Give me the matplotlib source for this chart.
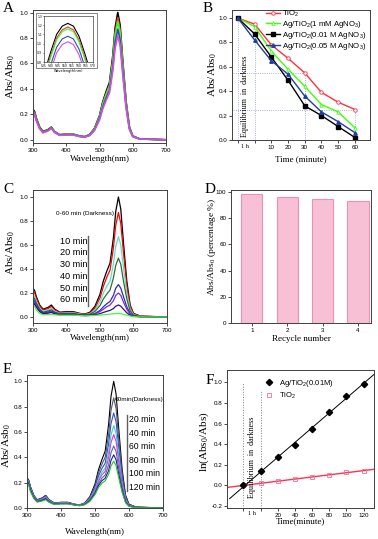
import numpy as np
import matplotlib
matplotlib.use("Agg")
import matplotlib.pyplot as plt
from matplotlib.lines import Line2D
from matplotlib.patches import Rectangle

plt.rcParams["mathtext.fontset"] = "custom"
plt.rcParams["mathtext.rm"] = "Liberation Serif"
plt.rcParams["mathtext.it"] = "Liberation Serif:italic"
plt.rcParams["mathtext.sf"] = "Liberation Sans"

# ---------------- data ----------------
wl = [300, 305, 310, 320, 330, 345, 355, 365, 380, 400, 420, 440, 455, 470, 485,
      500, 510, 520, 530, 540, 547, 555, 562, 570, 580, 590, 600, 620, 700]

# panel A: spectra of the five samples after darkness
spec_a = [
    [.24, .22, .17, .10, .065, .08, .10, .065, .04, .045, .045, .03, .025, .04, .09, .19, .30, .38, .45, .66, .88, 1.0, .90, .62, .30, .10, .03, .008, 0],
    [.23, .21, .16, .095, .062, .077, .097, .063, .039, .044, .044, .029, .024, .039, .086, .18, .29, .365, .43, .63, .845, .96, .865, .595, .29, .096, .029, .008, 0],
    [.225, .205, .16, .093, .06, .075, .095, .062, .038, .043, .043, .028, .023, .037, .084, .177, .28, .355, .42, .61, .82, .93, .84, .58, .28, .093, .028, .007, 0],
    [.22, .20, .155, .09, .058, .073, .092, .06, .036, .04, .04, .027, .022, .035, .078, .165, .26, .33, .39, .57, .765, .87, .785, .54, .26, .087, .026, .007, 0],
    [.215, .195, .15, .087, .055, .07, .09, .058, .035, .038, .038, .026, .021, .033, .074, .155, .245, .31, .37, .54, .72, .82, .74, .51, .25, .082, .025, .006, 0],
]
colors_a = ["black", "#ff3030", "#30ff30", "#3050b0", "#d050e0"]

wl_inset = [536, 540, 544, 548, 552, 556, 560, 564, 568]
inset_a = [
    [.72, .92, 1.10, 1.19, 1.22, 1.19, 1.08, .90, .70],
    [.68, .88, 1.06, 1.15, 1.18, 1.15, 1.04, .86, .66],
    [.66, .86, 1.04, 1.13, 1.16, 1.13, 1.02, .84, .64],
    [.58, .78, .96, 1.05, 1.08, 1.05, .94, .76, .56],
    [.52, .72, .90, .99, 1.02, .99, .88, .70, .50],
]

# panel B: degradation kinetics
time_b = [-10, 0, 10, 20, 30, 40, 50, 60]
tio2_b = [1.0, 0.95, 0.78, 0.67, 0.55, 0.39, 0.31, 0.25]
ag1mm_b = [1.0, 0.93, 0.73, 0.58, 0.44, 0.29, 0.23, 0.10]
ag001_b = [1.0, 0.87, 0.68, 0.49, 0.28, 0.20, 0.11, 0.02]
ag005_b = [1.0, 0.82, 0.65, 0.54, 0.36, 0.23, 0.15, 0.06]

# panel C: spectra with time (Ag/TiO2 0.01 M)
spec_c = [
    [.24, .22, .17, .10, .065, .08, .10, .065, .04, .045, .045, .03, .025, .04, .09, .19, .30, .38, .45, .66, .88, 1.0, .90, .62, .30, .10, .03, .008, 0],
    [.22, .20, .155, .09, .058, .07, .088, .058, .036, .04, .04, .027, .022, .034, .075, .16, .255, .33, .39, .575, .765, .87, .78, .54, .26, .087, .026, .007, 0],
    [.19, .17, .13, .075, .048, .058, .072, .048, .03, .035, .035, .024, .02, .028, .06, .125, .2, .255, .30, .44, .59, .67, .60, .415, .2, .067, .02, .005, 0],
    [.17, .15, .115, .065, .04, .05, .06, .04, .027, .03, .03, .02, .018, .024, .047, .095, .15, .19, .225, .325, .43, .49, .44, .30, .15, .05, .015, .004, 0],
    [.15, .13, .10, .055, .035, .042, .05, .035, .023, .025, .025, .017, .015, .018, .03, .055, .085, .11, .13, .18, .24, .27, .24, .17, .085, .03, .01, .003, 0],
    [.13, .115, .09, .05, .03, .037, .044, .03, .02, .022, .022, .015, .013, .016, .026, .045, .065, .085, .10, .135, .18, .20, .18, .125, .065, .022, .008, .002, 0],
    [.12, .105, .08, .045, .027, .032, .038, .026, .018, .019, .019, .013, .011, .013, .018, .028, .038, .047, .055, .07, .09, .10, .09, .065, .035, .013, .005, .002, 0],
    [.10, .085, .06, .03, .018, .02, .022, .018, .015, .015, .015, .012, .01, .011, .013, .016, .019, .022, .024, .027, .029, .03, .028, .022, .015, .008, .003, .001, 0],
]
colors_c = ["black", "red", "#50e8c8", "#3a6a30", "#2a2ac8", "#7a30c8", "#301078", "#40ff30"]
labels_c = ["10 min", "20 min", "30 min", "40 min", "50 min", "60 min"]

# panel D: recycling
cycles_d = [1, 2, 3, 4]
percent_d = [98.5, 96.0, 95.0, 93.0]

# panel E: spectra with time (second run)
spec_e = [
    [.24, .22, .17, .10, .065, .08, .10, .065, .04, .045, .045, .03, .025, .04, .09, .19, .30, .38, .45, .66, .88, 1.0, .90, .62, .30, .10, .03, .008, 0],
    [.235, .215, .165, .097, .063, .078, .098, .064, .04, .044, .044, .029, .024, .038, .085, .175, .275, .345, .40, .58, .77, .87, .785, .545, .265, .088, .027, .007, 0],
    [.23, .21, .16, .094, .06, .075, .093, .06, .038, .042, .042, .028, .023, .036, .078, .16, .25, .31, .355, .505, .665, .75, .68, .47, .23, .077, .024, .006, 0],
    [.225, .205, .155, .09, .057, .07, .088, .057, .036, .04, .04, .027, .022, .034, .072, .145, .225, .28, .315, .44, .575, .65, .59, .41, .20, .067, .021, .005, 0],
    [.22, .20, .15, .087, .055, .067, .083, .054, .034, .038, .038, .026, .021, .032, .067, .135, .21, .26, .29, .395, .515, .58, .525, .365, .18, .06, .019, .005, 0],
    [.215, .195, .145, .084, .052, .063, .077, .051, .032, .036, .036, .025, .02, .03, .062, .125, .19, .235, .26, .34, .435, .49, .445, .31, .155, .052, .017, .004, 0],
    [.21, .19, .14, .08, .05, .06, .072, .048, .03, .034, .034, .024, .019, .028, .057, .115, .175, .215, .235, .295, .375, .42, .38, .265, .135, .045, .015, .004, 0],
    [.20, .18, .13, .075, .046, .055, .065, .044, .028, .032, .032, .023, .018, .026, .052, .105, .16, .195, .215, .265, .33, .37, .335, .235, .12, .04, .013, .003, 0],
]
colors_e = ["black", "#505868", "#3050c0", "#40c8d8", "#d040d0", "#5868a8", "#202088", "#30c030"]
labels_e = ["20 min", "40 min", "60 min", "80 min", "100 min", "120 min"]

# panel F: first order kinetics
time_f = [-20, 0, 20, 40, 60, 80, 100, 120]
ag_f = [0.0, 0.14, 0.28, 0.39, 0.55, 0.71, 0.87, 0.98]
tio2_f = [0.0, 0.02, 0.04, 0.06, 0.08, 0.10, 0.13, 0.14]

# ---------------- figure ----------------
W, H = 378, 539
fig = plt.figure(figsize=(W / 100, H / 100), dpi=100)
SERIF = "Liberation Serif"
SANS = "Liberation Sans"


def add_ax(l, t, r, b):
    return fig.add_axes([l / W, 1 - b / H, (r - l) / W, (b - t) / H])


def ftext(x, y, s, **kw):
    fig.text(x / W, 1 - y / H, s, **kw)


def fpos(x, y):
    return (x / W, 1 - y / H)


def style(ax):
    for sp in ax.spines.values():
        sp.set_color("#404040")
        sp.set_linewidth(0.7)
    ax.tick_params(direction="out", length=2, width=0.5, labelsize=4.5, pad=1.3)
    for lab in ax.get_xticklabels() + ax.get_yticklabels():
        lab.set_family(SANS)


def label(ax, xl, yl, xy, yx, yy=0.5, xs=6.5, ys=8):
    ax.set_xlabel(xl, family=SERIF, fontsize=xs, va="top")
    ax.set_ylabel(yl, family=SERIF, fontsize=ys)
    ax.xaxis.set_label_coords(0.5, xy)
    ax.yaxis.set_label_coords(yx, yy)


# ---- A ----
ax = add_ax(33, 10, 166, 143)
for row, c in zip(spec_a, colors_a):
    ax.plot(wl, row, color=c, lw=1.2)
ax.set_xlim(300, 700)
ax.set_ylim(-0.025, 1.02)
ax.set_xticks([300, 400, 500, 600, 700])
ax.set_yticks([0, 0.2, 0.4, 0.6, 0.8, 1.0])
ax.set_yticklabels(["0.0", "0.2", "0.4", "0.6", "0.8", "1.0"])
style(ax)
label(ax, "Wavelength(nm)", "Abs/Abs$_0$", -0.09, -0.12)

fig.add_artist(Rectangle(fpos(36, 68), 61 / W, 55 / H, transform=fig.transFigure,
                         facecolor="white", edgecolor="#707070", lw=0.6, zorder=3))
axi = add_ax(44, 16, 93, 62)
axi.set_zorder(4)
for row, c in zip(inset_a, colors_a):
    axi.plot(wl_inset, row, color=c, lw=0.8)
axi.set_xlim(535, 570)
axi.set_ylim(0.8, 1.3)
axi.set_xticks([535, 540, 545, 550, 555, 560, 565, 570])
axi.set_yticks([0.8, 0.9, 1.0, 1.1, 1.2, 1.3])
for sp in axi.spines.values():
    sp.set_color("#404040")
    sp.set_linewidth(0.5)
axi.tick_params(direction="out", length=1, width=0.4, labelsize=2.2, pad=0.5)
axi.set_xlabel("Wavelength(nm)", fontsize=2.5, labelpad=0.5)
ftext(3, 12, "A", family=SERIF, fontsize=11)

# ---- B ----
ax = add_ax(232, 10, 370, 140)
dot = dict(color="#8898c8", ls=":", lw=0.6)
ax.plot([-14, 30], [tio2_b[4], tio2_b[4]], **dot)
ax.plot([30, 30], [0, tio2_b[4]], **dot)
ax.plot([-14, 60], [tio2_b[7], tio2_b[7]], **dot)
ax.plot([60, 60], [0, tio2_b[7]], **dot)
ax.plot([time_b[0], time_b[0]], [0, tio2_b[0]], **dot)
ax.plot([time_b[1], time_b[1]], [0, tio2_b[1]], **dot)
ax.plot(time_b, tio2_b, color="#ff3040", lw=1.0, marker="o", ms=2.5, mfc="white", mew=0.6,
        label="TiO$_\\mathsf{2}$")
ax.plot(time_b, ag1mm_b, color="#40ff10", lw=1.0, marker="^", ms=2.5, mfc="white", mew=0.6,
        label="Ag/TiO$_\\mathsf{2}$(1 mM AgNO$_\\mathsf{3}$)")
ax.plot(time_b, ag001_b, color="black", lw=1.0, marker="s", ms=2.2,
        label="Ag/TiO$_\\mathsf{2}$(0.01 M AgNO$_\\mathsf{3}$)")
ax.plot(time_b, ag005_b, color="#2040a0", lw=1.0, marker="^", ms=2.5,
        label="Ag/TiO$_\\mathsf{2}$(0.05 M AgNO$_\\mathsf{3}$)")
ax.set_xlim(-13.5, 69)
ax.set_ylim(0, 1.066)
ax.set_xticks([-10, 0, 10, 20, 30, 40, 50, 60])
ax.set_xticklabels(["", "", "10", "20", "30", "40", "50", "60"])
ax.set_yticks([0, 0.2, 0.4, 0.6, 0.8, 1.0])
ax.set_yticklabels(["0.0", "0.2", "0.4", "0.6", "0.8", "1.0"])
style(ax)
ax.text(-6, -0.035, "1 h", ha="center", va="top", family=SERIF, fontsize=4.5)
ax.text(-6, 0.36, "Equilibrium  in  darkness", rotation=90, ha="center", va="center",
        family=SERIF, fontsize=5.8)
ax.legend(loc="upper left", bbox_to_anchor=fpos(266, 9), bbox_transform=fig.transFigure,
          frameon=False, handlelength=1.8, handletextpad=0.3, labelspacing=0.0,
          borderaxespad=0, borderpad=0, prop={"family": SANS, "size": 5.6})
label(ax, "Time (minute)", "Abs/Abs$_0$", -0.12, -0.095)
ftext(203, 12, "B", family=SERIF, fontsize=11)

# ---- C ----
ax = add_ax(33, 190, 167, 323)
for row, c in zip(spec_c, colors_c):
    ax.plot(wl, row, color=c, lw=0.9)
ax.set_xlim(300, 700)
ax.set_ylim(-0.05, 1.058)
ax.set_xticks([300, 400, 500, 600, 700])
ax.set_yticks([0, 0.2, 0.4, 0.6, 0.8, 1.0])
ax.set_yticklabels(["0.0", "0.2", "0.4", "0.6", "0.8", "1.0"])
style(ax)
label(ax, "Wavelength(nm)", "Abs/Abs$_0$", -0.085, -0.12, yy=0.53)
ftext(56, 214, "0-60 min (Darkness)", family=SANS, fontsize=4.6, va="center")
for i, s in enumerate(labels_c):
    ftext(60, 241 + i * 11.8, s, family=SANS, fontsize=6.6, va="center")
fig.add_artist(Line2D([88 / W, 88 / W], [1 - 236 / H, 1 - 306 / H], color="#606060", lw=1.0))
ftext(3, 193, "C", family=SERIF, fontsize=11)

# ---- D ----
ax = add_ax(231, 190, 371, 323)
ax.bar(cycles_d, percent_d, width=0.6, color="#f8c0d4", edgecolor="#f090b0", lw=0.8)
ax.set_xlim(0.41, 4.37)
ax.set_ylim(0, 101.5)
ax.set_xticks(cycles_d)
ax.set_yticks([0, 20, 40, 60, 80, 100])
style(ax)
label(ax, "Recycle number", "Abs/Abs$_0$ (percentage %)", -0.09, -0.09, yy=0.575, ys=6.8)
ftext(205, 193, "D", family=SERIF, fontsize=11)

# ---- E ----
ax = add_ax(27, 375, 163, 508)
for row, c in zip(spec_e, colors_e):
    ax.plot(wl, row, color=c, lw=0.8)
ax.set_xlim(300, 700)
ax.set_ylim(0, 1.05)
ax.set_xticks([300, 400, 500, 600, 700])
ax.set_yticks([0, 0.2, 0.4, 0.6, 0.8, 1.0])
ax.set_yticklabels(["0.0", "0.2", "0.4", "0.6", "0.8", "1.0"])
style(ax)
label(ax, "Wavelength(nm)", "Abs/Asb$_0$", -0.15, -0.1, yy=0.47)
ftext(115, 399, "60min(Darkness)", family=SANS, fontsize=4.6, va="center")
for i, s in enumerate(labels_e):
    ftext(129, 420 + i * 13.4, s, family=SANS, fontsize=6.2, va="center")
fig.add_artist(Line2D([127 / W, 127 / W], [1 - 415 / H, 1 - 491 / H], color="#606060", lw=1.0))
ftext(3, 373, "E", family=SERIF, fontsize=11)

# ---- F ----
ax = add_ax(227, 370, 374, 508)
xlim_f = (-39, 132)
fit_ag = np.polyfit(time_f[1:], ag_f[1:], 1)
fit_ti = np.polyfit(time_f, tio2_f, 1)
xa = np.array([-36, xlim_f[1]])
xt = np.array(xlim_f)
gdot = dict(color="#808080", ls=":", lw=0.7)
ax.plot([-20, -20], [-0.3, 1.0], **gdot)
ax.plot([0, 0], [-0.3, 0.92], **gdot)
ax.plot(xa, np.polyval(fit_ag, xa), color="black", lw=0.7)
ax.plot(xt, np.polyval(fit_ti, xt), color="#ff3050", lw=1.0)
ax.plot(time_f, tio2_f, ls="none", marker="s", ms=3, mfc="none", mec="#f07090", mew=0.6,
        label="TiO$_\\mathsf{2}$")
ax.plot(time_f, ag_f, ls="none", marker="D", ms=3.2, color="black",
        label="Ag/TiO$_\\mathsf{2}$(0.01M)")
ax.set_xlim(*xlim_f)
ax.set_ylim(-0.22, 1.12)
ax.set_xticks([-20, 0, 20, 40, 60, 80, 100, 120])
ax.set_xticklabels(["", "", "20", "40", "60", "80", "100", "120"])
ax.set_yticks([-0.2, 0, 0.2, 0.4, 0.6, 0.8, 1.0])
ax.set_yticklabels(["-0.2", "0.0", "0.2", "0.4", "0.6", "0.8", "1.0"])
style(ax)
ax.text(-10, -0.25, "1 h", ha="center", va="top", family=SERIF, fontsize=4.5)
ax.text(-10, 0.27, "Equilibrium  in  darkness", rotation=90, ha="center", va="center",
        family=SERIF, fontsize=5.8)
h, l = ax.get_legend_handles_labels()
ax.legend(h[::-1], l[::-1], loc="upper left", bbox_to_anchor=fpos(263, 378),
          bbox_transform=fig.transFigure, frameon=False, handlelength=1.5,
          handletextpad=0.6, labelspacing=0.25, borderaxespad=0, borderpad=0,
          prop={"family": SANS, "size": 5.5})
label(ax, "Time(minute)", "ln(Abs$_0$/Abs)", -0.065, -0.11, yy=0.48)
ftext(206, 384, "F", family=SERIF, fontsize=11)

fig.savefig("out.png", dpi=100)
